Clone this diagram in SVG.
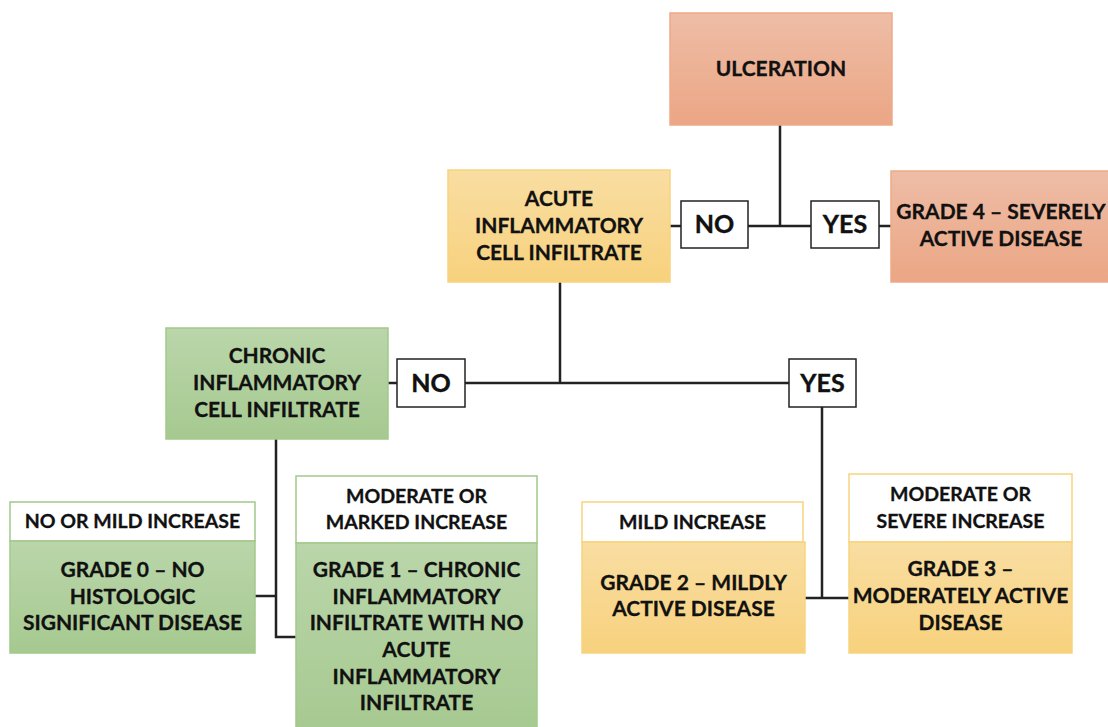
<svg xmlns="http://www.w3.org/2000/svg" width="1108" height="727" viewBox="0 0 1108 727">
<defs>
<linearGradient id="gRed" x1="0" y1="0" x2="0" y2="1"><stop offset="0" stop-color="#EEBDA6"/><stop offset="1" stop-color="#EBA685"/></linearGradient>
<linearGradient id="gYel" x1="0" y1="0" x2="0" y2="1"><stop offset="0" stop-color="#F9DEA2"/><stop offset="1" stop-color="#F7D17D"/></linearGradient>
<linearGradient id="gGrn" x1="0" y1="0" x2="0" y2="1"><stop offset="0" stop-color="#BAD6AA"/><stop offset="1" stop-color="#A6C990"/></linearGradient>
<style>
.red{fill:url(#gRed);stroke:#EEAA88;stroke-width:1.5}
.yel{fill:url(#gYel);stroke:#F8D37F;stroke-width:1.5}
.grn{fill:url(#gGrn);stroke:#A2C98B;stroke-width:1.5}
.hy{fill:#fff;stroke:#F8D37F;stroke-width:1.5}
.hg{fill:#fff;stroke:#A2C98B;stroke-width:1.5}
.lbl{fill:#fff;stroke:#222;stroke-width:1.5}
.t{font-family:Lato,"Liberation Sans",sans-serif;font-weight:bold;font-size:21px;fill:#111;text-anchor:middle;stroke:#111;stroke-width:0.3}
.h{font-family:Lato,"Liberation Sans",sans-serif;font-weight:bold;font-size:19.5px;fill:#111;text-anchor:middle;stroke:#111;stroke-width:0.3}
.l{font-family:Lato,"Liberation Sans",sans-serif;font-weight:bold;font-size:25px;fill:#111;text-anchor:middle;stroke:#111;stroke-width:0.4}
.c{fill:none;stroke:#222;stroke-width:2.5}
</style>
</defs>
<rect width="1108" height="727" fill="#fff"/>
<g id="connectors">
<path class="c" d="M780 125 V226"/>
<path class="c" d="M670 226 H891"/>
<path class="c" d="M560 282 V383"/>
<path class="c" d="M388 383 H790"/>
<path class="c" d="M822 407 V598"/>
<path class="c" d="M805 598 H849"/>
<path class="c" d="M276 439 V637 H297"/>
<path class="c" d="M255 596 H276"/>
</g>
<g id="ulceration">
<rect class="red" x="670" y="13" width="222" height="112"/>
<text class="t" x="781" y="76">ULCERATION</text>
</g>
<g id="grade4">
<rect class="red" x="891" y="171" width="225" height="111"/>
<text class="t" x="1001" y="219">GRADE 4 – SEVERELY</text>
<text class="t" x="1001" y="246">ACTIVE DISEASE</text>
</g>
<g id="acute">
<rect class="yel" x="448" y="170" width="222" height="112"/>
<text class="t" x="559" y="206">ACUTE</text>
<text class="t" x="559" y="233">INFLAMMATORY</text>
<text class="t" x="559" y="260">CELL INFILTRATE</text>
</g>
<g id="label-no-1">
<rect class="lbl" x="681" y="201" width="67" height="47"/>
<text class="l" x="714.5" y="233">NO</text>
</g>
<g id="label-yes-1">
<rect class="lbl" x="811" y="201" width="68" height="47"/>
<text class="l" x="845" y="233">YES</text>
</g>
<g id="chronic">
<rect class="grn" x="166" y="328" width="222" height="111"/>
<text class="t" x="277" y="363">CHRONIC</text>
<text class="t" x="277" y="390">INFLAMMATORY</text>
<text class="t" x="277" y="417">CELL INFILTRATE</text>
</g>
<g id="label-no-2">
<rect class="lbl" x="397" y="359" width="68" height="48"/>
<text class="l" x="431" y="392">NO</text>
</g>
<g id="label-yes-2">
<rect class="lbl" x="789" y="359" width="67" height="48"/>
<text class="l" x="822.5" y="392">YES</text>
</g>
<g id="grade0">
<rect class="hg" x="10" y="502" width="245" height="39"/>
<text class="h" x="132.5" y="528">NO OR MILD INCREASE</text>
<rect class="grn" x="10" y="541" width="245" height="112"/>
<text class="t" x="132.5" y="577">GRADE 0 – NO</text>
<text class="t" x="132.5" y="604">HISTOLOGIC</text>
<text class="t" x="132.5" y="630">SIGNIFICANT DISEASE</text>
</g>
<g id="grade1">
<rect class="hg" x="296" y="476" width="241" height="67"/>
<text class="h" x="416.5" y="503">MODERATE OR</text>
<text class="h" x="416.5" y="529">MARKED INCREASE</text>
<rect class="grn" x="296" y="543" width="241" height="190"/>
<text class="t" x="416.5" y="577">GRADE 1 – CHRONIC</text>
<text class="t" x="416.5" y="604">INFLAMMATORY</text>
<text class="t" x="416.5" y="630">INFILTRATE WITH NO</text>
<text class="t" x="416.5" y="657">ACUTE</text>
<text class="t" x="416.5" y="684">INFLAMMATORY</text>
<text class="t" x="416.5" y="710">INFILTRATE</text>
</g>
<g id="grade2">
<rect class="hy" x="582" y="502" width="221" height="40"/>
<text class="h" x="692.5" y="529">MILD INCREASE</text>
<rect class="yel" x="582" y="542" width="223" height="111"/>
<text class="t" x="693.5" y="590">GRADE 2 – MILDLY</text>
<text class="t" x="693.5" y="616">ACTIVE DISEASE</text>
</g>
<g id="grade3">
<rect class="hy" x="849" y="474" width="223" height="68"/>
<text class="h" x="960.5" y="501">MODERATE OR</text>
<text class="h" x="960.5" y="528">SEVERE INCREASE</text>
<rect class="yel" x="849" y="542" width="223" height="111"/>
<text class="t" x="960.5" y="576">GRADE 3 –</text>
<text class="t" x="960.5" y="603">MODERATELY ACTIVE</text>
<text class="t" x="960.5" y="630">DISEASE</text>
</g>
</svg>
